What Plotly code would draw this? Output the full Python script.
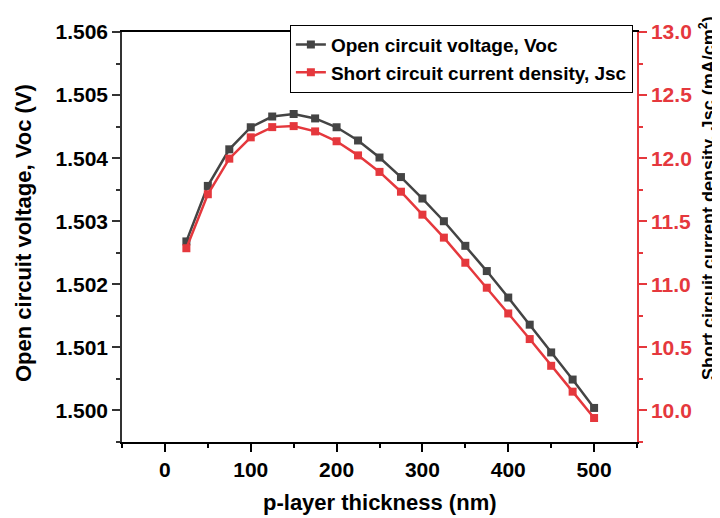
import plotly.graph_objects as go

thickness = [25, 50, 75, 100, 125, 150, 175, 200, 225, 250,
             275, 300, 325, 350, 375, 400, 425, 450, 475, 500]
voc = [1.50268, 1.50356, 1.50414, 1.50449, 1.50466, 1.50470, 1.50463, 1.50449, 1.50428, 1.50401,
       1.50370, 1.50336, 1.50300, 1.50261, 1.50221, 1.50179, 1.50136, 1.50092, 1.50049, 1.50004]
jsc = [11.286, 11.714, 11.996, 12.165, 12.246, 12.254, 12.212, 12.134, 12.022, 11.891,
       11.734, 11.552, 11.370, 11.171, 10.973, 10.769, 10.566, 10.354, 10.149, 9.940]

voc_name = "Open circuit voltage, Voc"
jsc_name = "Short circuit current density, Jsc"
x_title = "p-layer thickness (nm)"
y1_title = "Open circuit voltage, Voc (V)"
y2_title = "Short circuit current density, Jsc (mA/cm<sup>2</sup>)"

GRAY = "#444444"
RED = "#e5383d"
FONT = "Liberation Sans, Arial, sans-serif"

fig = go.Figure()
fig.add_trace(go.Scatter(x=thickness, y=voc, name=voc_name, mode="lines+markers",
                         line=dict(color=GRAY, width=2.5),
                         marker=dict(symbol="square", size=8, color=GRAY)))
fig.add_trace(go.Scatter(x=thickness, y=jsc, name=jsc_name, mode="lines+markers",
                         yaxis="y2",
                         line=dict(color=RED, width=2.5),
                         marker=dict(symbol="square", size=8, color=RED)))

tickfont = dict(family=FONT, size=21, color="black", weight="bold")

# page body has an 8px margin, so the figure is 8px smaller than the window
fig.update_layout(
    width=712, height=510,
    margin=dict(l=114, r=83, t=17, b=76),
    paper_bgcolor="white", plot_bgcolor="white",
    showlegend=True,
    legend=dict(x=0.992, y=1.018, xanchor="right", yanchor="top",
                bordercolor="black", borderwidth=1, bgcolor="white",
                font=dict(family=FONT, size=19, color="black", weight="bold"),
                tracegroupgap=0),
    xaxis=dict(range=[-50, 550], tick0=0, dtick=100, showgrid=False, zeroline=False,
               ticks="outside", ticklen=8, tickwidth=1.5, tickcolor="black",
               showline=True, linecolor="black", linewidth=1.5, mirror=True,
               tickfont=tickfont, ticklabelstandoff=0,
               minor=dict(dtick=50, ticks="outside", ticklen=4, tickwidth=1.5, tickcolor="black")),
    yaxis=dict(range=[1.4995, 1.506], tick0=1.5, dtick=0.001, tickformat=".3f",
               showgrid=False, zeroline=False,
               ticks="outside", ticklen=8, tickwidth=1.5, tickcolor="#333333",
               showline=True, linecolor="#333333", linewidth=1.5,
               tickfont=tickfont,
               minor=dict(dtick=0.0005, ticks="outside", ticklen=4, tickwidth=1.5, tickcolor="#333333")),
    yaxis2=dict(range=[9.75, 13.0], tick0=10, dtick=0.5, tickformat=".1f",
                overlaying="y", side="right", showgrid=False, zeroline=False,
                ticks="outside", ticklen=8, tickwidth=1.5, tickcolor=RED,
                showline=True, linecolor=RED, linewidth=1.5,
                tickfont=dict(family=FONT, size=21, color=RED, weight="bold"),
                minor=dict(dtick=0.25, ticks="outside", ticklen=4, tickwidth=1.5, tickcolor=RED)),
    annotations=[
        dict(text=x_title, xref="paper", yref="paper", x=0.5, y=-0.147,
             xanchor="center", yanchor="middle", showarrow=False,
             font=dict(family=FONT, size=22, color="black", weight="bold")),
        dict(text=y1_title, xref="paper", yref="paper", x=-0.19, y=0.51,
             xanchor="center", yanchor="middle", showarrow=False, textangle=-90,
             font=dict(family=FONT, size=22, color="black", weight="bold")),
        dict(text=y2_title, xref="paper", yref="paper", x=1.136, y=0.595,
             xanchor="center", yanchor="middle", showarrow=False, textangle=-90,
             font=dict(family=FONT, size=18, color="black", weight="bold")),
    ],
)

fig.write_html("out.html")
